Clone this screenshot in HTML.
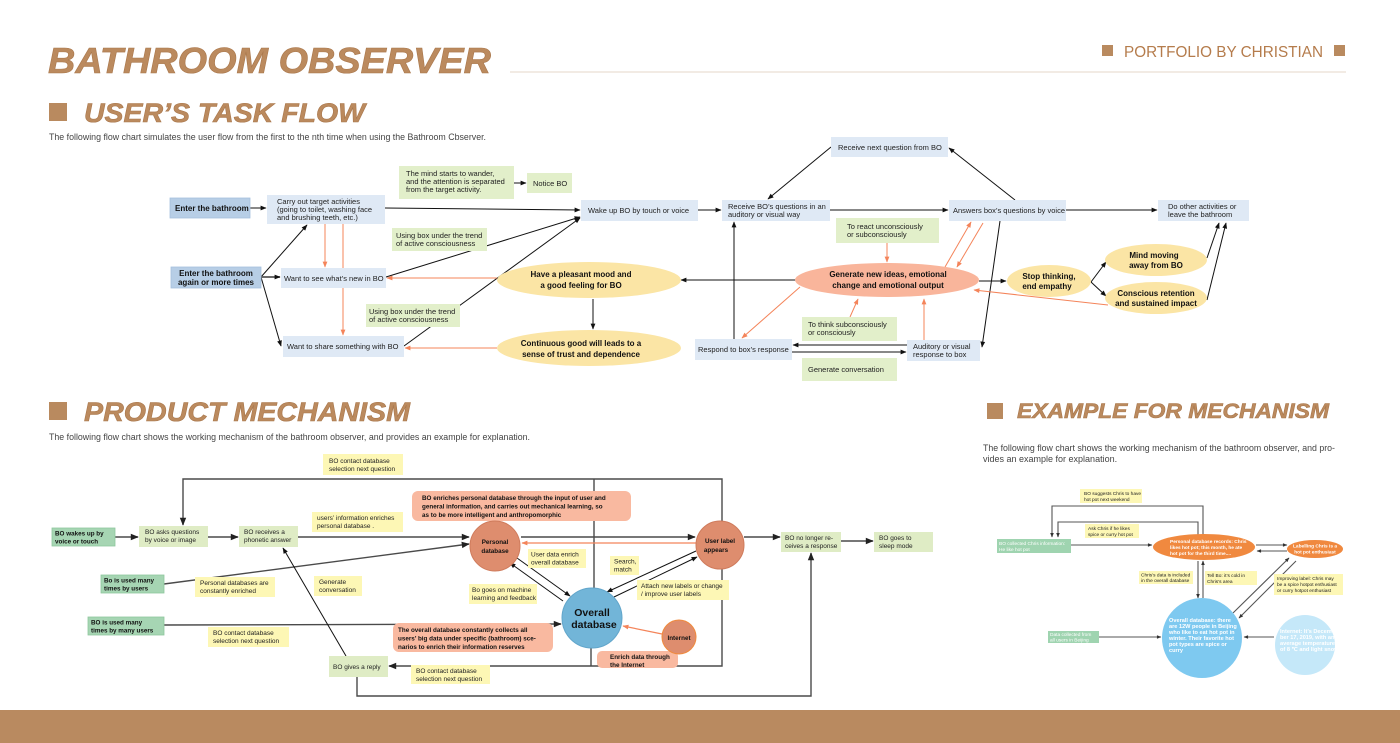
<!DOCTYPE html>
<html>
<head>
<meta charset="utf-8">
<style>
  html,body{margin:0;padding:0;background:#fff;}
  body{width:1400px;height:743px;overflow:hidden;}
  svg{display:block;}
  .t{font-size:7.5px;fill:#222;}
  .b{font-size:8px;font-weight:bold;fill:#111;}
  .m{font-size:6.5px;fill:#222;}
  .mb{font-size:6.3px;font-weight:bold;fill:#111;}
  .e{font-size:4.8px;fill:#222;}
  .ew{font-size:4.8px;fill:#fff;}
  .ewb{font-size:5.6px;fill:#fff;font-weight:bold;}
  .lk{stroke:#111;stroke-width:1;fill:none;}
  .lo{stroke:#f4845a;stroke-width:1;fill:none;}
  .lm{stroke:#4a4a4a;stroke-width:1.4;fill:none;}
  .le{stroke:#555;stroke-width:1.1;fill:none;}
  .bl{fill:#dfe9f5;}
  .bm{fill:#b7cee6;stroke:#a6c1de;stroke-width:0.8;}
  .gn{fill:#e2efca;}
  .ye{fill:#fbe5a5;}
  .sa{fill:#f9b59b;}
  .my{fill:#fdf7b5;}
  .mg{fill:#dfecc5;}
  .dg{fill:#a6d5b3;stroke:#8fc79e;stroke-width:0.8;}
  .ti{font-weight:bold;font-style:italic;fill:#bb8a5e;stroke:#a9774c;stroke-width:0.6;}
  .sub{font-size:9px;fill:#444;}
</style>
</head>
<body>
<svg width="1400" height="743" viewBox="0 0 1400 743" xmlns="http://www.w3.org/2000/svg" font-family="'Liberation Sans', Arial, sans-serif">
<defs>
  <marker id="ab" viewBox="0 0 10 10" refX="9" refY="5" markerWidth="7" markerHeight="6" markerUnits="userSpaceOnUse" orient="auto"><path d="M0,1 L10,5 L0,9 z" fill="#111"/></marker>
  <marker id="ao" viewBox="0 0 10 10" refX="9" refY="5" markerWidth="7" markerHeight="6" markerUnits="userSpaceOnUse" orient="auto"><path d="M0,1 L10,5 L0,9 z" fill="#f4845a"/></marker>
  <marker id="am" viewBox="0 0 10 10" refX="9" refY="5" markerWidth="9" markerHeight="8" markerUnits="userSpaceOnUse" orient="auto"><path d="M0,1 L10,5 L0,9 z" fill="#222"/></marker>
  <marker id="ae" viewBox="0 0 10 10" refX="9" refY="5" markerWidth="5" markerHeight="4.5" markerUnits="userSpaceOnUse" orient="auto"><path d="M0,1 L10,5 L0,9 z" fill="#333"/></marker>
</defs>

<!-- HEADER -->
<text x="48" y="73" class="ti" font-size="36" textLength="443" lengthAdjust="spacingAndGlyphs">BATHROOM OBSERVER</text>
<line x1="510" y1="72" x2="1346" y2="72" stroke="#eadfd4" stroke-width="1.2"/>
<rect x="1102" y="45" width="11" height="11" fill="#b98a5f"/>
<text x="1124" y="57" font-size="16" fill="#b57c4c" textLength="199" lengthAdjust="spacingAndGlyphs">PORTFOLIO BY CHRISTIAN</text>
<rect x="1334" y="45" width="11" height="11" fill="#b98a5f"/>

<!-- SECTION TITLES -->
<rect x="49" y="103" width="18" height="18" fill="#b98a5f"/>
<text x="84" y="122" class="ti" font-size="27" textLength="281" lengthAdjust="spacingAndGlyphs">USER’S TASK FLOW</text>
<text x="49" y="140" class="sub" textLength="437" lengthAdjust="spacingAndGlyphs">The following flow chart simulates the user flow from the first to the nth time when using the Bathroom Cbserver.</text>

<rect x="49" y="402" width="18" height="18" fill="#b98a5f"/>
<text x="84" y="421" class="ti" font-size="27" textLength="326" lengthAdjust="spacingAndGlyphs">PRODUCT MECHANISM</text>
<text x="49" y="440" class="sub" textLength="481" lengthAdjust="spacingAndGlyphs">The following flow chart shows the working mechanism of the bathroom observer, and provides an example for explanation.</text>

<rect x="987" y="403" width="16" height="16" fill="#b98a5f"/>
<text x="1017" y="418" class="ti" font-size="21" textLength="312" lengthAdjust="spacingAndGlyphs">EXAMPLE FOR MECHANISM</text>
<text x="983" y="451" class="sub" textLength="352" lengthAdjust="spacingAndGlyphs">The following flow chart shows the working mechanism of the bathroom observer, and pro-</text>
<text x="983" y="462" class="sub">vides an example for explanation.</text>

<!-- ============ TASK FLOW ============ -->
<line class="lk" x1="250" y1="208" x2="266" y2="208" marker-end="url(#ab)"/>
<line class="lk" x1="385" y1="208" x2="580" y2="210" marker-end="url(#ab)"/>
<line class="lk" x1="514" y1="183" x2="526" y2="183" marker-end="url(#ab)"/>
<line class="lk" x1="261" y1="277" x2="307" y2="225" marker-end="url(#ab)"/>
<line x1="261" y1="277" x2="280" y2="277" stroke="#555" stroke-width="1.8" marker-end="url(#ab)"/>
<line class="lk" x1="261" y1="277" x2="281" y2="346" marker-end="url(#ab)"/>
<line class="lk" x1="386" y1="277" x2="580" y2="217" marker-end="url(#ab)"/>
<line class="lk" x1="404" y1="346" x2="580" y2="218" marker-end="url(#ab)"/>
<line class="lk" x1="593" y1="299" x2="593" y2="329" marker-end="url(#ab)"/>
<line class="lk" x1="698" y1="210" x2="721" y2="210" marker-end="url(#ab)"/>
<line class="lk" x1="830" y1="210" x2="948" y2="210" marker-end="url(#ab)"/>
<line class="lk" x1="1066" y1="210" x2="1157" y2="210" marker-end="url(#ab)"/>
<line class="lk" x1="831" y1="147" x2="768" y2="199" marker-end="url(#ab)"/>
<line class="lk" x1="1015" y1="200" x2="949" y2="148" marker-end="url(#ab)"/>
<line class="lk" x1="734" y1="339" x2="734" y2="222" marker-end="url(#ab)"/>
<line class="lk" x1="796" y1="280" x2="681" y2="280" marker-end="url(#ab)"/>
<line class="lk" x1="1000" y1="221" x2="982" y2="347" marker-end="url(#ab)"/>
<line class="lk" x1="907" y1="345" x2="793" y2="345" marker-end="url(#ab)"/>
<line class="lk" x1="792" y1="352" x2="906" y2="352" marker-end="url(#ab)"/>
<line class="lk" x1="979" y1="281" x2="1006" y2="281" marker-end="url(#ab)"/>
<line class="lk" x1="1091" y1="282" x2="1106" y2="262" marker-end="url(#ab)"/>
<line class="lk" x1="1091" y1="282" x2="1106" y2="296" marker-end="url(#ab)"/>
<line class="lk" x1="1207" y1="258" x2="1219" y2="223" marker-end="url(#ab)"/>
<line class="lk" x1="1207" y1="300" x2="1226" y2="223" marker-end="url(#ab)"/>
<line class="lo" x1="325" y1="224" x2="325" y2="267" marker-end="url(#ao)"/>
<line class="lo" x1="343" y1="224" x2="343" y2="335" marker-end="url(#ao)"/>
<line class="lo" x1="497" y1="278" x2="387" y2="278" marker-end="url(#ao)"/>
<line class="lo" x1="497" y1="348" x2="405" y2="348" marker-end="url(#ao)"/>
<line class="lo" x1="800" y1="287" x2="742" y2="338" marker-end="url(#ao)"/>
<line class="lo" x1="887" y1="243" x2="887" y2="262" marker-end="url(#ao)"/>
<line class="lo" x1="850" y1="317" x2="858" y2="299" marker-end="url(#ao)"/>
<line class="lo" x1="924" y1="340" x2="924" y2="299" marker-end="url(#ao)"/>
<line class="lo" x1="945" y1="267" x2="971" y2="222" marker-end="url(#ao)"/>
<line class="lo" x1="983" y1="223" x2="957" y2="267" marker-end="url(#ao)"/>
<line class="lo" x1="1108" y1="305" x2="974" y2="290" marker-end="url(#ao)"/>

<rect x="170" y="198" width="80" height="20" class="bm"/>
<text x="175" y="211" class="b">Enter the bathroom</text>

<rect x="267" y="195" width="118" height="29" class="bl"/>
<text x="277" y="204" class="t">Carry out target activities</text>
<text x="277" y="212" class="t">(going to toilet, washing face</text>
<text x="277" y="220" class="t">and brushing teeth, etc.)</text>

<rect x="399" y="166" width="115" height="33" class="gn"/>
<text x="406" y="176" class="t">The mind starts to wander,</text>
<text x="406" y="184" class="t">and the attention is separated</text>
<text x="406" y="192" class="t">from the target activity.</text>

<rect x="527" y="173" width="45" height="20" class="gn"/>
<text x="533" y="186" class="t">Notice BO</text>

<rect x="581" y="200" width="117" height="21" class="bl"/>
<text x="588" y="213" class="t">Wake up BO by touch or voice</text>

<rect x="171" y="267" width="90" height="21" class="bm"/>
<text x="216" y="276" class="b" text-anchor="middle">Enter the bathroom</text>
<text x="216" y="285" class="b" text-anchor="middle">again or more times</text>

<rect x="281" y="268" width="105" height="20" class="bl"/>
<text x="284" y="281" class="t">Want to see what’s new in BO</text>

<rect x="392" y="228" width="95" height="23" class="gn"/>
<text x="396" y="238" class="t">Using box under the trend</text>
<text x="396" y="246" class="t">of active consciousness</text>

<rect x="366" y="304" width="94" height="23" class="gn"/>
<text x="369" y="314" class="t">Using box under the trend</text>
<text x="369" y="322" class="t">of active consciousness</text>

<rect x="283" y="336" width="121" height="21" class="bl"/>
<text x="287" y="349" class="t">Want to share something with BO</text>

<ellipse cx="589" cy="280" rx="92" ry="18" class="ye"/>
<text x="581" y="277" class="b" text-anchor="middle">Have a pleasant mood and</text>
<text x="581" y="288" class="b" text-anchor="middle">a good feeling for BO</text>

<ellipse cx="589" cy="348" rx="92" ry="18" class="ye"/>
<text x="581" y="346" class="b" text-anchor="middle">Continuous good will leads to a</text>
<text x="581" y="357" class="b" text-anchor="middle">sense of trust and dependence</text>

<rect x="831" y="137" width="117" height="20" class="bl"/>
<text x="838" y="150" class="t">Receive next question from BO</text>

<rect x="722" y="200" width="108" height="21" class="bl"/>
<text x="728" y="209" class="t">Receive BO’s questions in an</text>
<text x="728" y="217" class="t">auditory or visual way</text>

<rect x="949" y="200" width="117" height="21" class="bl"/>
<text x="953" y="213" class="t">Answers box’s questions by voice</text>

<rect x="1158" y="200" width="91" height="21" class="bl"/>
<text x="1168" y="209" class="t">Do other activities or</text>
<text x="1168" y="217" class="t">leave the bathroom</text>

<rect x="836" y="218" width="103" height="25" class="gn"/>
<text x="847" y="229" class="t">To react unconsciously</text>
<text x="847" y="237" class="t">or subconsciously</text>

<ellipse cx="887" cy="280" rx="92" ry="17" class="sa"/>
<text x="888" y="277" class="b" text-anchor="middle">Generate new ideas, emotional</text>
<text x="888" y="288" class="b" text-anchor="middle">change and emotional output</text>

<rect x="802" y="317" width="95" height="24" class="gn"/>
<text x="808" y="327" class="t">To think subconsciously</text>
<text x="808" y="335" class="t">or consciously</text>

<rect x="695" y="339" width="97" height="21" class="bl"/>
<text x="698" y="352" class="t">Respond to box’s response</text>

<rect x="907" y="340" width="73" height="21" class="bl"/>
<text x="913" y="349" class="t">Auditory or visual</text>
<text x="913" y="357" class="t">response to box</text>

<rect x="802" y="358" width="95" height="23" class="gn"/>
<text x="808" y="372" class="t">Generate conversation</text>

<ellipse cx="1049" cy="281" rx="42" ry="16" class="ye"/>
<text x="1049" y="279" class="b" text-anchor="middle">Stop thinking,</text>
<text x="1047" y="289" class="b" text-anchor="middle">end empathy</text>

<ellipse cx="1156" cy="260" rx="51" ry="16" class="ye"/>
<text x="1154" y="258" class="b" text-anchor="middle">Mind moving</text>
<text x="1156" y="268" class="b" text-anchor="middle">away from BO</text>

<ellipse cx="1156" cy="298" rx="51" ry="16" class="ye"/>
<text x="1156" y="296" class="b" text-anchor="middle">Conscious retention</text>
<text x="1156" y="306" class="b" text-anchor="middle">and sustained impact</text>

<!-- ============ PRODUCT MECHANISM ============ -->
<polyline class="lm" points="722,521 722,479 183,479 183,525" marker-end="url(#am)"/>
<line class="lm" x1="594" y1="479" x2="594" y2="588"/>
<line class="lm" x1="115" y1="537" x2="138" y2="537" marker-end="url(#am)"/>
<line class="lm" x1="208" y1="537" x2="238" y2="537" marker-end="url(#am)"/>
<line class="lm" x1="298" y1="537" x2="469" y2="537" marker-end="url(#am)"/>
<line class="lm" x1="164" y1="584" x2="469" y2="544" marker-end="url(#am)"/>
<line class="lm" x1="164" y1="625" x2="561" y2="624" marker-end="url(#am)"/>
<line class="lm" x1="521" y1="537" x2="695" y2="537" marker-end="url(#am)"/>
<line x1="696" y1="543" x2="522" y2="543" stroke="#f4845a" stroke-width="1.3" marker-end="url(#ao)"/>
<line class="lk" x1="517" y1="558" x2="570" y2="596" marker-end="url(#ab)"/>
<line class="lk" x1="563" y1="601" x2="510" y2="563" marker-end="url(#ab)"/>
<line class="lk" x1="696" y1="551" x2="607" y2="592" marker-end="url(#ab)"/>
<line class="lk" x1="614" y1="597" x2="697" y2="557" marker-end="url(#ab)"/>
<line x1="662" y1="634" x2="623" y2="626" stroke="#f4845a" stroke-width="1.2" marker-end="url(#ao)"/>
<line class="lm" x1="744" y1="537" x2="780" y2="537" marker-end="url(#am)"/>
<line class="lm" x1="841" y1="541" x2="873" y2="541" marker-end="url(#am)"/>
<polyline class="lm" points="722,569 722,666 389,666" marker-end="url(#am)"/>
<line class="lm" x1="591" y1="648" x2="591" y2="666"/>
<line class="lk" x1="346" y1="656" x2="283" y2="548" marker-end="url(#ab)"/>
<polyline class="lm" points="357,677 357,696 811,696 811,553" marker-end="url(#am)"/>

<rect x="323" y="454" width="80" height="21" class="my"/>
<text x="329" y="463" class="m">BO contact database</text>
<text x="329" y="471" class="m">selection next question</text>

<rect x="52" y="528" width="63" height="18" class="dg"/>
<text x="55" y="535.5" class="mb">BO wakes up by</text>
<text x="55" y="543.5" class="mb">voice or touch</text>

<rect x="139" y="526" width="69" height="21" class="mg"/>
<text x="145" y="534" class="m">BO asks questions</text>
<text x="145" y="542" class="m">by voice or image</text>

<rect x="239" y="526" width="59" height="21" class="mg"/>
<text x="244" y="534" class="m">BO receives a</text>
<text x="244" y="542" class="m">phonetic answer</text>

<rect x="312" y="512" width="91" height="20" class="my"/>
<text x="317" y="520" class="m">users’ information enriches</text>
<text x="317" y="528" class="m">personal database .</text>

<rect x="101" y="575" width="63" height="18" class="dg"/>
<text x="104" y="582.5" class="mb">Bo is used many</text>
<text x="104" y="590.5" class="mb">times by users</text>

<rect x="195" y="577" width="80" height="20" class="my"/>
<text x="200" y="585" class="m">Personal databases are</text>
<text x="200" y="593" class="m">constantly enriched</text>

<rect x="314" y="576" width="48" height="20" class="my"/>
<text x="319" y="584" class="m">Generate</text>
<text x="319" y="592" class="m">conversation</text>

<rect x="88" y="617" width="76" height="18" class="dg"/>
<text x="91" y="624.5" class="mb">BO is used many</text>
<text x="91" y="632.5" class="mb">times by many users</text>

<rect x="208" y="627" width="81" height="20" class="my"/>
<text x="213" y="635" class="m">BO contact database</text>
<text x="213" y="643" class="m">selection next question</text>

<rect x="329" y="656" width="59" height="21" class="mg"/>
<text x="333" y="669" class="m">BO gives a reply</text>

<rect x="412" y="491" width="219" height="30" rx="6" fill="#f9b9a0"/>
<text x="422" y="500" class="mb">BO enriches personal database through the input of user and</text>
<text x="422" y="508.5" class="mb">general information, and carries out mechanical learning, so</text>
<text x="422" y="517" class="mb">as to be more intelligent and anthropomorphic</text>

<circle cx="495" cy="546" r="25" fill="#de8d6e" stroke="#cf7b5c" stroke-width="1"/>
<text x="495" y="544" class="mb" text-anchor="middle" font-size="7">Personal</text>
<text x="495" y="553" class="mb" text-anchor="middle" font-size="7">database</text>

<rect x="528" y="549" width="58" height="19" class="my"/>
<text x="531" y="556.5" class="m">User data enrich</text>
<text x="531" y="564.5" class="m">overall database</text>

<rect x="610" y="556" width="29" height="19" class="my"/>
<text x="614" y="563.5" class="m">Search,</text>
<text x="614" y="571.5" class="m">match</text>

<circle cx="720" cy="545" r="24" fill="#de8d6e" stroke="#cf7b5c" stroke-width="1"/>
<text x="720" y="543" class="mb" text-anchor="middle" font-size="7">User label</text>
<text x="716" y="552" class="mb" text-anchor="middle" font-size="7">appears</text>

<rect x="637" y="580" width="92" height="20" class="my"/>
<text x="641" y="588" class="m">Attach new labels or change</text>
<text x="641" y="596" class="m">/ improve user labels</text>

<rect x="469" y="584" width="68" height="20" class="my"/>
<text x="472" y="592" class="m">Bo goes on machine</text>
<text x="472" y="600" class="m">learning and feedback</text>

<rect x="393" y="623" width="160" height="29" rx="6" fill="#f9b9a0"/>
<text x="398" y="632" class="mb">The overall database constantly collects all</text>
<text x="398" y="640.5" class="mb">users’ big data under specific (bathroom) sce-</text>
<text x="398" y="649" class="mb">narios to enrich their information reserves</text>

<circle cx="592" cy="618" r="30" fill="#72b5d8" stroke="#62a6cb" stroke-width="1"/>
<text x="592" y="616" text-anchor="middle" font-size="10.5" font-weight="bold" fill="#111">Overall</text>
<text x="594" y="628" text-anchor="middle" font-size="10.5" font-weight="bold" fill="#111">database</text>

<rect x="597" y="651" width="81" height="17" rx="5" fill="#f9b9a0"/>
<circle cx="679" cy="637" r="17" fill="#de8d6e" stroke="#f08a3c" stroke-width="1"/>
<text x="679" y="640" class="mb" text-anchor="middle" font-size="7">Internet</text>
<text x="610" y="659" class="mb">Enrich data through</text>
<text x="610" y="667" class="mb">the Internet</text>

<rect x="411" y="665" width="79" height="19" class="my"/>
<text x="416" y="673" class="m">BO contact database</text>
<text x="416" y="681" class="m">selection next question</text>

<rect x="781" y="532" width="60" height="20" class="mg"/>
<text x="785" y="540" class="m">BO no longer re-</text>
<text x="785" y="548" class="m">ceives a response</text>

<rect x="874" y="532" width="59" height="20" class="mg"/>
<text x="879" y="540" class="m">BO goes to</text>
<text x="879" y="548" class="m">sleep mode</text>

<!-- ============ EXAMPLE FOR MECHANISM ============ -->
<polyline class="le" points="1203,535 1203,506 1052,506 1052,537" marker-end="url(#ae)"/>
<polyline class="le" points="1198,535 1198,522 1058,522 1058,537" marker-end="url(#ae)"/>
<line class="le" x1="1071" y1="545" x2="1152" y2="545" marker-end="url(#ae)"/>
<line class="le" x1="1256" y1="545" x2="1287" y2="545" marker-end="url(#ae)"/>
<line class="le" x1="1287" y1="551" x2="1257" y2="551" marker-end="url(#ae)"/>
<line class="le" x1="1198" y1="561" x2="1198" y2="598" marker-end="url(#ae)"/>
<line class="le" x1="1203" y1="598" x2="1203" y2="561" marker-end="url(#ae)"/>
<line class="le" x1="1233" y1="613" x2="1289" y2="558" marker-end="url(#ae)"/>
<line class="le" x1="1296" y1="561" x2="1239" y2="618" marker-end="url(#ae)"/>
<line class="le" x1="1099" y1="637" x2="1161" y2="637" marker-end="url(#ae)"/>
<line class="le" x1="1274" y1="637" x2="1244" y2="637" marker-end="url(#ae)"/>

<rect x="1080" y="489" width="62" height="14" class="my"/>
<text x="1084" y="495" class="e">BO suggests Chris to have</text>
<text x="1084" y="501" class="e">hot pot next weekend</text>

<rect x="1085" y="524" width="54" height="14" class="my"/>
<text x="1088" y="530" class="e">Ask Chris if he likes</text>
<text x="1088" y="536" class="e">spice or curry hot pot</text>

<rect x="997" y="539" width="74" height="14" fill="#9fd4b0"/>
<text x="999" y="545" class="ew">BO collected Chris information:</text>
<text x="999" y="551" class="ew">He like hot pot</text>

<ellipse cx="1204" cy="547" rx="51" ry="13" fill="#f0893f"/>
<text x="1170" y="543" class="ew" font-weight="bold">Personal database records: Chris</text>
<text x="1170" y="549" class="ew" font-weight="bold">likes hot pot; this month, he ate</text>
<text x="1170" y="555" class="ew" font-weight="bold">hot pot for the third time....</text>

<ellipse cx="1315" cy="549" rx="28" ry="9" fill="#f0893f"/>
<text x="1315" y="547.5" class="ew" text-anchor="middle" font-weight="bold">Labelling Chris is a</text>
<text x="1315" y="553.5" class="ew" text-anchor="middle" font-weight="bold">hot pot enthusiast</text>

<rect x="1139" y="571" width="54" height="13" class="my"/>
<text x="1141" y="576.5" class="e">Chris’s data is included</text>
<text x="1141" y="582" class="e">in the overall database</text>

<rect x="1205" y="571" width="52" height="14" class="my"/>
<text x="1207" y="577" class="e">Tell Bo: it’s cold in</text>
<text x="1207" y="583" class="e">Chris’s area</text>

<rect x="1274" y="574" width="69" height="21" class="my"/>
<text x="1277" y="580" class="e">Improving label: Chris may</text>
<text x="1277" y="586" class="e">be a spice hotpot enthusiast</text>
<text x="1277" y="592" class="e">or curry hotpot enthusiast</text>

<circle cx="1202" cy="638" r="40" fill="#7ec9f0"/>
<text x="1169" y="622" class="ewb">Overall database: there</text>
<text x="1169" y="628" class="ewb">are 12W people in Beijing</text>
<text x="1169" y="634" class="ewb">who like to eat hot pot in</text>
<text x="1169" y="640" class="ewb">winter. Their favorite hot</text>
<text x="1169" y="646" class="ewb">pot types are spice or</text>
<text x="1169" y="652" class="ewb">curry</text>

<circle cx="1305" cy="645" r="30" fill="#c5e8f9"/>
<text x="1280" y="633" class="ewb" font-size="5">Internet: It’s Decem-</text>
<text x="1280" y="639" class="ewb" font-size="5">ber 17, 2019, with an</text>
<text x="1280" y="645" class="ewb" font-size="5">average temperature</text>
<text x="1280" y="651" class="ewb" font-size="5">of 8 ℃ and light snow</text>

<rect x="1048" y="631" width="51" height="12" fill="#9fd4b0"/>
<text x="1050" y="636" class="ew">Data collected from</text>
<text x="1050" y="641.5" class="ew">all users in Beijing</text>

<!-- BOTTOM BAND -->
<rect x="0" y="710" width="1400" height="33" fill="#b98a60"/>
</svg>
</body>
</html>
